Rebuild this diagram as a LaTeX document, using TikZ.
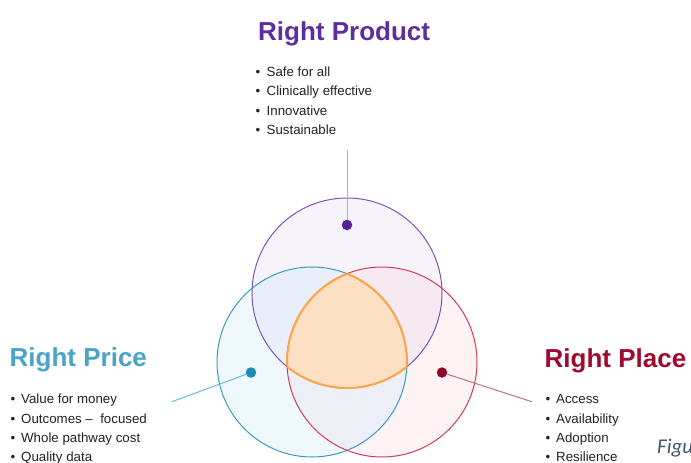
\documentclass[tikz,border=0pt]{standalone}
\usepackage{fontspec}
\setmainfont{Liberation Sans}
\newfontfamily\capfont{Carlito}
\definecolor{prodcol}{HTML}{5F2E9E}
\definecolor{pricecol}{HTML}{4AA3C8}
\definecolor{placecol}{HTML}{9E0B2F}
\definecolor{prodring}{HTML}{7B55B5}
\definecolor{pricering}{HTML}{3A9CC0}
\definecolor{placering}{HTML}{D23A55}
\definecolor{prodfill}{HTML}{F6F3FB}
\definecolor{pricefill}{HTML}{EFF8FC}
\definecolor{placefill}{HTML}{FDF3F5}
\definecolor{prodpricefill}{HTML}{E8EFFA}
\definecolor{prodplacefill}{HTML}{F5EAF2}
\definecolor{priceplacefill}{HTML}{ECEFF5}
\definecolor{corefill}{HTML}{FDDFC3}
\definecolor{coreline}{HTML}{FBA448}
\definecolor{prodlink}{HTML}{B9A5D8}
\definecolor{pricelink}{HTML}{6BB8D6}
\definecolor{placelink}{HTML}{C0707F}
\definecolor{proddotcol}{HTML}{52239A}
\definecolor{pricedotcol}{HTML}{1E8CB5}
\definecolor{placedotcol}{HTML}{8E0A2A}
\definecolor{textcol}{HTML}{222222}
\definecolor{capgray}{HTML}{44546A}
\begin{document}
\begin{tikzpicture}[x=1pt,y=-1pt,
    title/.style={anchor=base west,inner sep=0pt,font=\bfseries\fontsize{26}{30}\selectfont},
    item/.style={anchor=base west,inner sep=0pt,text=textcol,font=\fontsize{13.3}{16}\selectfont},
    dot/.style={circle,inner sep=0pt,minimum size=10.5pt},
    ring/.style={line width=1pt},
    coreedge/.style={coreline,line width=2pt}]
    \useasboundingbox (0,0) rectangle (691,463);

    \coordinate (top) at (347,293);
    \coordinate (left) at (312,362);
    \coordinate (right) at (382,362);

    \fill[prodfill] (top) circle (95);
    \fill[pricefill] (left) circle (95);
    \fill[placefill] (right) circle (95);
    \begin{scope}
        \clip (top) circle (95);
        \fill[prodpricefill] (left) circle (95);
        \fill[prodplacefill] (right) circle (95);
    \end{scope}
    \begin{scope}
        \clip (left) circle (95);
        \fill[priceplacefill] (right) circle (95);
        \clip (top) circle (95);
        \fill[corefill] (right) circle (95);
    \end{scope}

    \draw[ring,prodring] (top) circle (95);
    \draw[ring,pricering] (left) circle (95);
    \draw[ring,placering] (right) circle (95);

    \begin{scope}
        \clip (left) circle (95);
        \clip (right) circle (95);
        \draw[coreedge] (top) circle (95);
    \end{scope}
    \begin{scope}
        \clip (top) circle (95);
        \clip (right) circle (95);
        \draw[coreedge] (left) circle (95);
    \end{scope}
    \begin{scope}
        \clip (top) circle (95);
        \clip (left) circle (95);
        \draw[coreedge] (right) circle (95);
    \end{scope}

    \node[dot,fill=proddotcol] (proddot) at (347,225) {};
    \node[dot,fill=pricedotcol] (pricedot) at (251,372.5) {};
    \node[dot,fill=placedotcol] (placedot) at (442,372.5) {};
    \coordinate (prodend) at (347,150);
    \coordinate (priceend) at (172,401.7);
    \coordinate (placeend) at (531.7,401.7);
    \draw[prodlink,line width=1pt] (proddot) -- (prodend);
    \draw[pricelink,line width=1pt] (pricedot) -- (priceend);
    \draw[placelink,line width=1pt] (placedot) -- (placeend);

    \node[title,text=prodcol] (prodtitle) at (258,40.7) {Right Product};
    \node[title,text=pricecol] (pricetitle) at (9.5,366) {Right Price};
    \node[title,text=placecol] (placetitle) at (544.5,367) {Right Place};

    \foreach \txt [count=\i] in {Safe for all,Clinically effective,Innovative,Sustainable}
        \node[item] (prod\i) at (255.5,56.5+19.5*\i) {\makebox[11pt][l]{\textbullet}\txt};
    \foreach \txt [count=\i] in {Value for money,Outcomes –~ focused,Whole pathway cost,Quality data}
        \node[item] (price\i) at (10.5,384.6+19.3*\i) {\makebox[10.5pt][l]{\textbullet}\txt};
    \foreach \txt [count=\i] in {Access,Availability,Adoption,Resilience}
        \node[item] (place\i) at (545.5,384.6+19.3*\i) {\makebox[10.5pt][l]{\textbullet}\txt};

    \node[anchor=base west,inner sep=0pt,text=capgray,font=\capfont\itshape\fontsize{21}{24}\selectfont] (fig) at (657,453) {Figu};
\end{tikzpicture}
\end{document}
